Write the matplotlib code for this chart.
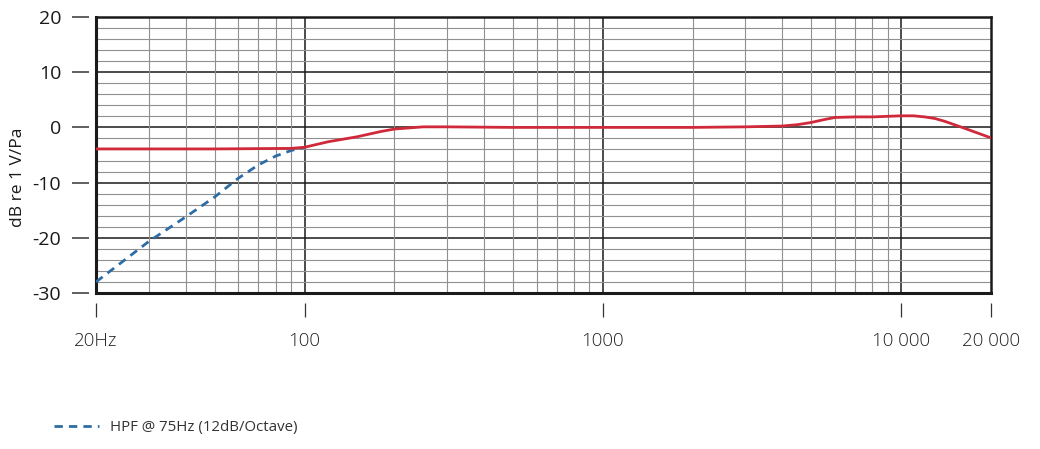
import matplotlib.pyplot as plt
import matplotlib.ticker as mticker
import numpy as np

plt.rcParams['font.family'] = ['Open Sans', 'DejaVu Sans']
plt.rcParams['axes.unicode_minus'] = False

# Charakterystyka czestotliwosciowa
freq = [20, 50, 90, 100, 120, 150, 180, 200, 250, 300, 500, 1000, 2000, 3000,
        4000, 4500, 5000, 5500, 6000, 7000, 8000, 10000, 11000, 12000, 13000,
        14000, 16000, 18000, 20000]
czulosc = [-3.9, -3.9, -3.8, -3.6, -2.6, -1.7, -0.75, -0.3, 0.1, 0.1, 0.0, 0.0,
           0.0, 0.1, 0.25, 0.5, 0.9, 1.4, 1.8, 1.9, 1.9, 2.1, 2.1, 1.9, 1.6,
           1.1, 0.0, -1.0, -1.9]

# Filtr gornoprzepustowy 75 Hz
freq_hpf = [20, 30, 40, 50, 60, 70, 80, 90, 100]
czulosc_hpf = [-28.0, -20.7, -16.2, -12.6, -9.2, -6.8, -5.2, -4.2, -3.6]

xticks = [20, 100, 1000, 10000, 20000]
xtick_labels = ['20Hz', '100', '1000', '10 000', '20 000']
yticks = [20, 10, 0, -10, -20, -30]

fig = plt.figure(figsize=(10.4, 4.49), dpi=100)
ax = fig.add_axes([96 / 1040, 1 - 293 / 449, 895 / 1040, 276 / 449])

ax.set_xscale('log')
ax.set_xlim(20, 20000)
ax.set_ylim(-30, 20)

# siatka
ax.set_yticks(yticks)
ax.set_yticks(np.arange(-30, 21, 2), minor=True)
ax.xaxis.set_minor_locator(mticker.LogLocator(base=10, subs=np.arange(2, 10)))
ax.xaxis.set_minor_formatter(mticker.NullFormatter())
ax.set_xticks(xticks)
ax.set_xticklabels(xtick_labels)

ax.grid(True, which='minor', color='#909090', lw=0.8)
for y in yticks:
    ax.axhline(y, color='#1a1a1a', lw=1.1, zorder=1)
for x in [100, 1000, 10000]:
    ax.axvline(x, color='#1a1a1a', lw=1.1, zorder=1)

# ramka
for s in ['top', 'right']:
    ax.spines[s].set_linewidth(1.8)
    ax.spines[s].set_color('#1a1a1a')
for s in ['left', 'bottom']:
    ax.spines[s].set_color('none')
ax.spines['left'].set_position(('outward', 5))
ax.spines['bottom'].set_position(('outward', 7))
ax.axvline(20, color='#1a1a1a', lw=2.2, clip_on=False, zorder=3)
ax.axhline(-30, color='#1a1a1a', lw=2.2, clip_on=False, zorder=3)

ax.tick_params(axis='y', which='major', length=12, width=1.2, color='#444444',
               pad=8, labelsize=14, labelcolor='#1a1a1a')
ax.tick_params(axis='x', which='major', length=10, width=0.9, color='#333333',
               pad=11, labelsize=13.5, labelcolor='#222222')
ax.tick_params(which='minor', length=0)
for lab in ax.get_xticklabels():
    lab.set_fontweight('light')

# krzywe
ax.plot(freq_hpf, czulosc_hpf, color='#2d6ca5', lw=2, linestyle=(0, (3, 2.2)),
        zorder=4, label='HPF @ 75Hz (12dB/Octave)')
ax.plot(freq, czulosc, color='#d02a3a', lw=2, zorder=5)

ax.set_ylabel('dB re 1 V/Pa', fontsize=12.5, color='#1a1a1a')
ax.yaxis.set_label_coords(-0.078, 0.42)

fig.legend(loc='center left', bbox_to_anchor=(40 / 1040, 1 - 428 / 449),
           frameon=False, fontsize=10.8, handlelength=3.0, labelcolor='#333333')

plt.savefig('out.png', dpi=100)
